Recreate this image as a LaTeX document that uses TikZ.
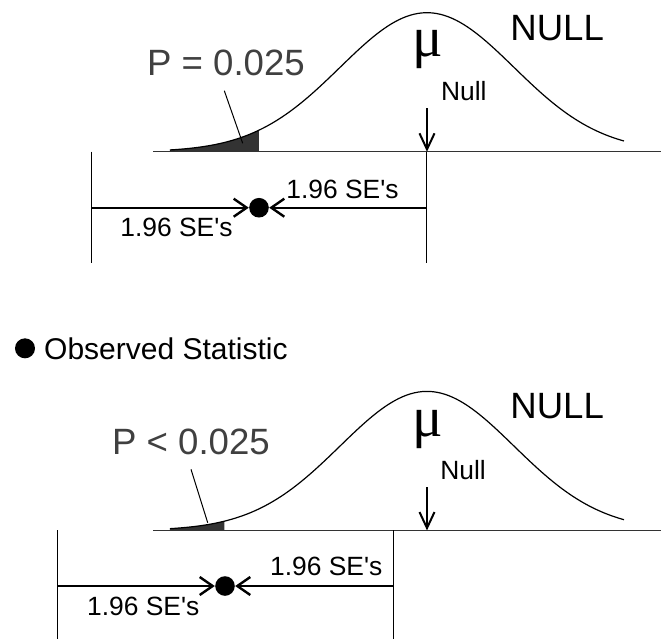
\documentclass[tikz,border=0pt]{standalone}
\usepackage{fontspec}
\setmainfont{Liberation Sans}
\newfontfamily\sefont{Liberation Sans}
\newfontfamily\mufont{Liberation Serif}
\usetikzlibrary{arrows.meta,positioning}
\definecolor{tailgray}{RGB}{51,51,51}
\definecolor{labelgray}{RGB}{64,64,64}

\tikzset{
  lbl/.style={inner sep=0pt,font=\sefont\fontsize{13.2}{15}\selectfont},
  big/.style={inner sep=0pt,font=\fontsize{18.3}{21}\selectfont},
  mu/.style={inner sep=0pt,anchor=base,font=\mufont\fontsize{28.5}{30}\selectfont},
  obs/.style={circle,fill,inner sep=0pt,minimum size=9.8pt},
  se/.style={line width=1pt,-{Straight Barb[length=6.5pt,width=9pt,line width=1.2pt]}},
  nullarrow/.style={line width=0.8pt,-{Straight Barb[length=8pt,width=7.5pt,line width=1pt]}},
  axis/.style={line width=0.55pt,tailgray},
  vline/.style={line width=0.5pt},
}

\begin{document}
\begin{tikzpicture}[x=0.5pt,y=-0.5pt,
  declare function={dens(\t)=151.7-139*exp(-0.5*pow((\t-427)/87,2));}]
\useasboundingbox (0,0) rectangle (661,639);

% upper panel: P = 0.025
\fill[tailgray] (170,151.7) -- plot[domain=170:259,samples=40] (\x,{dens(\x)}) -- (259,151.7) -- cycle;
\draw[line width=0.6pt] plot[domain=170:624,samples=120] (\x,{dens(\x)});
\draw[axis] (153.3,151.7) -- (661,151.7);

\node[big,anchor=base west] (nullA) at (510,40) {NULL};
\node[mu] (muA) at (427.5,56.7) {μ};
\node[lbl,anchor=base west] (nlA) at (440.7,100.7) {Null};
\node[big,labelgray,anchor=base west] (pA) at (146.7,75) {P = 0.025};

\coordinate (pinA) at (224.3,90.7);
\coordinate (tailA) at (242.7,143.3);
\draw[vline] (pinA) -- (tailA);

\coordinate (arrA) at (427,108.3);
\coordinate (meanA) at (427,151.7);
\coordinate (meanendA) at (427,263.3);
\coordinate (leftA) at (91.7,151.7);
\coordinate (leftendA) at (91.7,263.3);
\draw[nullarrow] (arrA) -- (meanA);
\draw[vline] (meanA) -- (meanendA);
\draw[vline] (leftA) -- (leftendA);

\node[obs] (dotA) at (259,207.7) {};
\coordinate (seLA) at (91.7,207.7);
\coordinate (seRA) at (427,207.7);
\draw[se] (seLA) -- (dotA);
\draw[se] (seRA) -- (dotA);
\node[lbl,anchor=base east] (seupA) at (399,198) {1.96 SE's};
\node[lbl,anchor=base west] (selowA) at (120,236.7) {1.96 SE's};

% legend
\node[obs,minimum size=10pt] (legdot) at (25,348.3) {};
\node[inner sep=0pt,font=\fontsize{15}{17}\selectfont,right=4.2pt of legdot] (legtxt) {Observed Statistic};

% lower panel: P < 0.025
\fill[tailgray] (170,530.4) -- plot[domain=170:224.3,samples=30] (\x,{dens(\x)+378.7}) -- (224.3,530.4) -- cycle;
\draw[line width=0.6pt] plot[domain=170:624,samples=120] (\x,{dens(\x)+378.7});
\draw[axis] (153.3,530.4) -- (661,530.4);

\node[big,anchor=base west] (nullB) at (510,418.3) {NULL};
\node[mu] (muB) at (427.5,436.2) {μ};
\node[lbl,anchor=base west] (nlB) at (440,479) {Null};
\node[big,labelgray,anchor=base west] (pB) at (111.7,454) {P < 0.025};

\coordinate (pinB) at (191,469.3);
\coordinate (tailB) at (207.7,522.7);
\draw[vline] (pinB) -- (tailB);

\coordinate (arrB) at (427,487.3);
\coordinate (meanB) at (427,530.4);
\draw[nullarrow] (arrB) -- (meanB);
\coordinate (rightB) at (393.3,530.4);
\coordinate (rightendB) at (393.3,639);
\coordinate (leftB) at (57.3,530.4);
\coordinate (leftendB) at (57.3,639);
\draw[vline] (rightB) -- (rightendB);
\draw[vline] (leftB) -- (leftendB);

\node[obs] (dotB) at (225,586) {};
\coordinate (seLB) at (57.3,586);
\coordinate (seRB) at (393.3,586);
\draw[se] (seLB) -- (dotB);
\draw[se] (seRB) -- (dotB);
\node[lbl,anchor=base east] (seupB) at (382.7,575) {1.96 SE's};
\node[lbl,anchor=base west] (selowB) at (86.7,615) {1.96 SE's};

\end{tikzpicture}
\end{document}
